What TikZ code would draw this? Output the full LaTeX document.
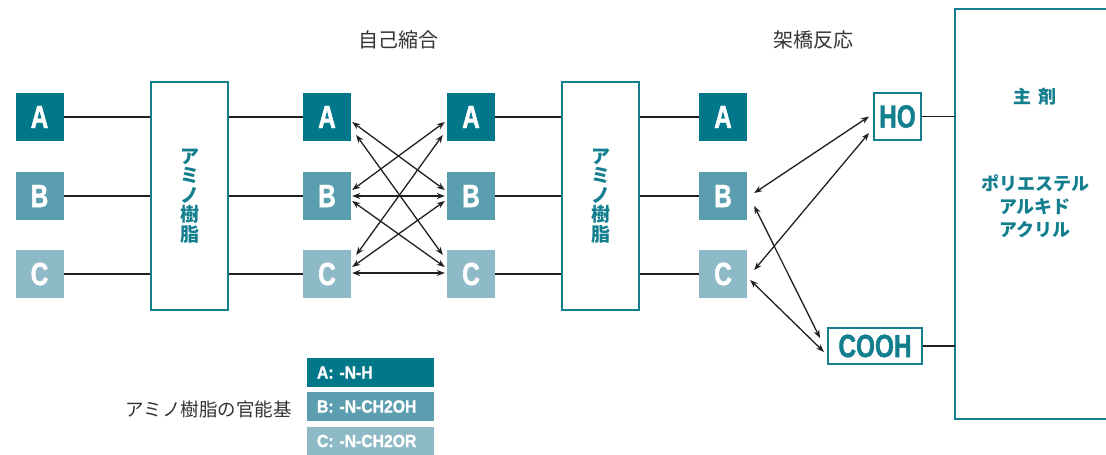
\documentclass[tikz,border=0pt]{standalone}
\usepackage{fontspec}
\setmainfont{Liberation Sans}
\newfontfamily\condfont[FakeStretch=0.76,FakeBold=1.5]{Liberation Sans Bold}
\newfontfamily\condlg[FakeStretch=0.9,FakeBold=1.2]{Liberation Sans Bold}
\newfontfamily\jp{Noto Sans CJK JP}
\usetikzlibrary{arrows.meta,calc}
\definecolor{cA}{HTML}{00788A}
\definecolor{cB}{HTML}{5A9EB0}
\definecolor{cC}{HTML}{8EB9C6}
\definecolor{teal1}{HTML}{137F8E}
\definecolor{lineK}{HTML}{231F20}
\definecolor{txtK}{HTML}{333333}
\tikzset{
  fgbox/.style={minimum width=48pt,minimum height=48pt,inner sep=0pt,text=white,
    font=\condfont\fontsize{32}{32}\selectfont},
  fA/.style={fgbox,fill=cA},
  fB/.style={fgbox,fill=cB},
  fC/.style={fgbox,fill=cC},
  resin/.style={draw=teal1,line width=2.2pt,minimum width=77pt,minimum height=228pt,inner sep=0pt,
    text=teal1,font=\jp\bfseries\fontsize{19}{19.5}\selectfont,align=center},
  grp/.style={draw=teal1,line width=2pt,inner sep=0pt,text=teal1,
    font=\condfont\fontsize{32}{32}\selectfont},
  conn/.style={draw=lineK,line width=1.4pt},
  dbl/.style={draw=lineK,line width=1.3pt,{Stealth[length=8pt,width=6pt]}-{Stealth[length=8pt,width=6pt]}},
  leg/.style={text width=107pt,inner xsep=10pt,inner ysep=0pt,minimum height=29pt,align=left,
    text=white,font=\condlg\fontsize{17.5}{17.5}\selectfont},
  ttl/.style={text=txtK,font=\jp\fontsize{20}{20}\selectfont},
  maintxt/.style={text=teal1,font=\jp\bfseries\fontsize{18}{23}\selectfont,align=center}
}
\begin{document}
\begin{tikzpicture}[x=1pt,y=-1pt]
\useasboundingbox (0,0) rectangle (1106,455);
% titles
\node[ttl] (t1) at (398,40) {自己縮合};
\node[ttl] (t2) at (813,40) {架橋反応};
% column 1
\node[fA] (A1) at (39.5,117) {A};
\node[fB] (B1) at (39.5,196) {B};
\node[fC] (C1) at (39.5,274) {C};
% resin 1
\node[resin] (R1) at (189.5,196) {ア\\ミ\\ノ\\樹\\脂};
% column 2
\node[fA] (A2) at (327,117) {A};
\node[fB] (B2) at (327,196) {B};
\node[fC] (C2) at (327,274) {C};
% column 3
\node[fA] (A3) at (471,117) {A};
\node[fB] (B3) at (471,196) {B};
\node[fC] (C3) at (471,274) {C};
% resin 2
\node[resin] (R2) at (600.5,196) {ア\\ミ\\ノ\\樹\\脂};
% column 4
\node[fA] (A4) at (723,117) {A};
\node[fB] (B4) at (723,196) {B};
\node[fC] (C4) at (723,274) {C};
% groups
\node[grp,minimum width=47pt,minimum height=47pt] (HO) at (897.5,116.5) {HO};
\node[grp,minimum width=94pt,minimum height=36pt] (COOH) at (875,346) {COOH};
% main box
\coordinate (mainL) at (955,9);
\draw[draw=teal1,line width=2.4pt] (1112,9) -- (955,9) -- (955,419) -- (1112,419);
\node[maintxt] (m1) at (1035,97) {主\hspace{7pt}剤};
\node[maintxt] (m2) at (1035,206) {ポリエステル\\アルキド\\アクリル};
% straight connectors
\foreach \n in {A,B,C}{
  \draw[conn] (\n1.east) -- (\n1.east -| R1.west);
  \draw[conn] (R1.east |- \n2.west) -- (\n2.west);
  \draw[conn] (\n3.east) -- (\n3.east -| R2.west);
  \draw[conn] (R2.east |- \n4.west) -- (\n4.west);
}
\draw[conn] (HO.east) -- (HO.east -| mainL);
\draw[conn] (COOH.east) -- (COOH.east -| mainL);
% self condensation arrows
\draw[dbl] ([xshift=1pt,yshift=-5pt]A2.east) -- ([xshift=-2pt,yshift=6pt]B3.west);
\draw[dbl] ([xshift=5pt,yshift=-18pt]A2.east) -- ([xshift=-4pt,yshift=19pt]C3.west);
\draw[dbl] ([xshift=1pt,yshift=6pt]B2.east) -- ([xshift=-2pt,yshift=-5pt]A3.west);
\draw[dbl] ([xshift=1pt]B2.east) -- ([xshift=-2pt]B3.west);
\draw[dbl] ([xshift=1pt,yshift=-5pt]B2.east) -- ([xshift=-2pt,yshift=7pt]C3.west);
\draw[dbl] ([xshift=5pt,yshift=19pt]C2.east) -- ([xshift=-4pt,yshift=-18pt]A3.west);
\draw[dbl] ([xshift=1pt,yshift=7pt]C2.east) -- ([xshift=-2pt,yshift=-5pt]B3.west);
\draw[dbl] ([xshift=1pt,yshift=1pt]C2.east) -- ([xshift=-2pt,yshift=1pt]C3.west);
% crosslinking arrows
\draw[dbl] ([xshift=7pt,yshift=3pt]B4.east) -- ([xshift=-4pt]HO.west);
\draw[dbl] ([xshift=7pt,yshift=4pt]C4.east) -- ([xshift=-4pt,yshift=-16.5pt]HO.west);
\draw[dbl] ([xshift=7pt,yshift=-10pt]B4.east) -- ([xshift=-7pt,yshift=8pt]COOH.west);
\draw[dbl] ([xshift=3pt,yshift=-6pt]C4.east) -- ([xshift=-3pt,yshift=-6pt]COOH.west);
% legend
\node[leg,fill=cA] (LA) at (370.5,372.5) {A: -N-H};
\node[leg,fill=cB] (LB) at (370.5,406.5) {B: -N-CH2OH};
\node[leg,fill=cC] (LC) at (370.5,441) {C: -N-CH2OR};
\node[text=txtK,font=\jp\fontsize{18.5}{18.5}\selectfont] (Ltxt) at (208.5,409) {アミノ樹脂の官能基};
\end{tikzpicture}
\end{document}
